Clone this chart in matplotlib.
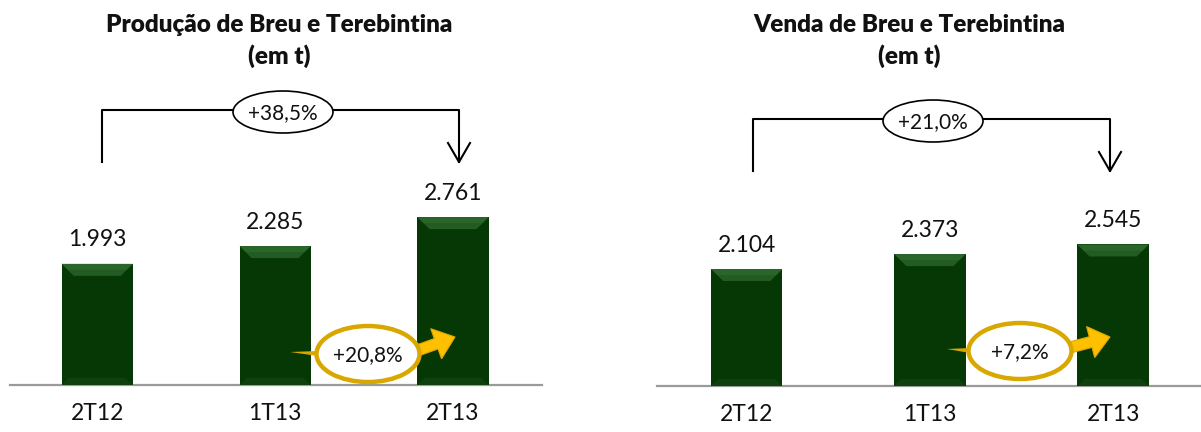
import matplotlib
matplotlib.use("Agg")
import matplotlib.pyplot as plt
from matplotlib.patches import Ellipse, Polygon, FancyArrow

plt.rcParams['font.family'] = ['Lato', 'DejaVu Sans']

# Data
categories = ["2T12", "1T13", "2T13"]
producao = [1993, 2285, 2761]
venda = [2104, 2373, 2545]
prod_labels = ["1.993", "2.285", "2.761"]
venda_labels = ["2.104", "2.373", "2.545"]
prod_title = ["Produção de Breu e Terebintina", "(em t)"]
venda_title = ["Venda de Breu e Terebintina", "(em t)"]
prod_total, prod_qoq = "+38,5%", "+20,8%"
venda_total, venda_qoq = "+21,0%", "+7,2%"

W, H = 1201, 432
fig = plt.figure(figsize=(W / 100, H / 100), dpi=100)

BAR = "#053805"
BEVEL = "#3a7a3a"
GOLD = "#d9a800"
ARROW = "#ffc000"


def px_axes(x0, x1, y0, y1):
    return fig.add_axes([x0 / W, 1 - y1 / H, (x1 - x0) / W, (y1 - y0) / H])


def bar_panel(ax, values, labels, xlim, ylim, width):
    x = range(len(values))
    ax.bar(x, values, width=width, color=BAR, zorder=3)
    # bevel on top of each bar
    ax_h = ax.get_window_extent().height
    bev = 12 * (ylim[1] - ylim[0]) / ax_h
    inset = width * 0.17
    for i, v in enumerate(values):
        l, r = i - width / 2, i + width / 2
        ax.add_patch(Polygon([(l, v), (r, v), (r - inset, v - bev), (l + inset, v - bev)],
                             closed=True, color=BEVEL, alpha=0.55, lw=0, zorder=4))
        ax.add_patch(Polygon([(l, v), (r, v), (r - inset * 0.5, v - bev * 0.5), (l + inset * 0.5, v - bev * 0.5)],
                             closed=True, color=BEVEL, alpha=0.35, lw=0, zorder=4))
        ax.add_patch(Polygon([(l, 0), (r, 0), (r - inset * 0.6, bev * 0.6), (l + inset * 0.6, bev * 0.6)],
                             closed=True, color="#1f521f", alpha=0.35, lw=0, zorder=4))
        ax.annotate(labels[i], (i, v), xytext=(0, 12.5), textcoords="offset points",
                    ha="center", va="baseline", fontsize=16.5, color="#111111")
    ax.set_xlim(*xlim)
    ax.set_ylim(*ylim)
    ax.set_xticks(list(x))
    ax.set_xticklabels(categories, fontsize=16.5, color="#111111")
    ax.tick_params(axis="x", length=0, pad=13)
    ax.set_yticks([])
    for s in ["top", "left", "right"]:
        ax.spines[s].set_visible(False)
    ax.spines["bottom"].set_color("#9a9a9a")
    ax.spines["bottom"].set_linewidth(1.6)
    ax.patch.set_alpha(0)


ax1 = px_axes(10, 542, 0, 385)
bar_panel(ax1, producao, prod_labels, (-0.49, 2.5), (0, 385 / 0.0608), 0.40)
ax2 = px_axes(657, 1201, 0, 386)
bar_panel(ax2, venda, venda_labels, (-0.49, 2.48), (0, 386 / 0.0556), 0.39)

# overlay in pixel units for titles and callouts
ov = fig.add_axes([0, 0, 1, 1])
ov.set_xlim(0, W)
ov.set_ylim(H, 0)
ov.axis("off")
ov.patch.set_alpha(0)

for cx, lines in [(279, prod_title), (909, venda_title)]:
    ov.text(cx, 25, lines[0], ha="center", va="center", fontsize=17.5, fontweight="heavy",
            color="#111111")
    ov.text(cx, 56, lines[1], ha="center", va="center", fontsize=17.5, fontweight="heavy",
            color="#111111")


def bracket(x0, x1, y, ybot, cx, cy, txt):
    ov.plot([x0, x0, cx - 50], [ybot, y, y], color="black", lw=1.5)
    ov.plot([cx + 50, x1, x1], [y, y, ybot], color="black", lw=1.5)
    ov.plot([x1 - 11, x1, x1 + 11], [ybot - 19, ybot, ybot - 19], color="black", lw=1.5)
    ov.add_patch(Ellipse((cx, cy), 100, 42, facecolor="white", edgecolor="black", lw=1.2))
    ov.text(cx, cy + 1, txt, ha="center", va="center", fontsize=15, color="#111111")


bracket(102, 459, 110, 162, 283, 112, prod_total)
bracket(753, 1110, 119, 171, 933, 121, venda_total)


def callout(cx, cy, tail_x, tip, txt):
    ov.add_patch(Polygon([(tail_x, cy - 2), (cx - 50, cy - 3), (cx - 50, cy + 2)],
                         closed=True, color=GOLD, lw=0, zorder=5))
    sx, sy = cx + 48, cy - 3
    ov.add_patch(FancyArrow(sx, sy, tip[0] - sx, tip[1] - sy, width=11, head_width=32,
                            head_length=20, length_includes_head=True,
                            facecolor=ARROW, edgecolor="#e0a800", lw=0.8, zorder=5))
    ov.add_patch(Ellipse((cx, cy), 103, 56, facecolor="white", edgecolor=GOLD, lw=3.2, zorder=6))
    ov.text(cx, cy + 1, txt, ha="center", va="center", fontsize=15, color="#111111", zorder=7)


callout(368, 354, 290, (455, 337), prod_qoq)
callout(1020, 351, 947, (1110, 337), venda_qoq)

fig.savefig("out.png", dpi=100)
